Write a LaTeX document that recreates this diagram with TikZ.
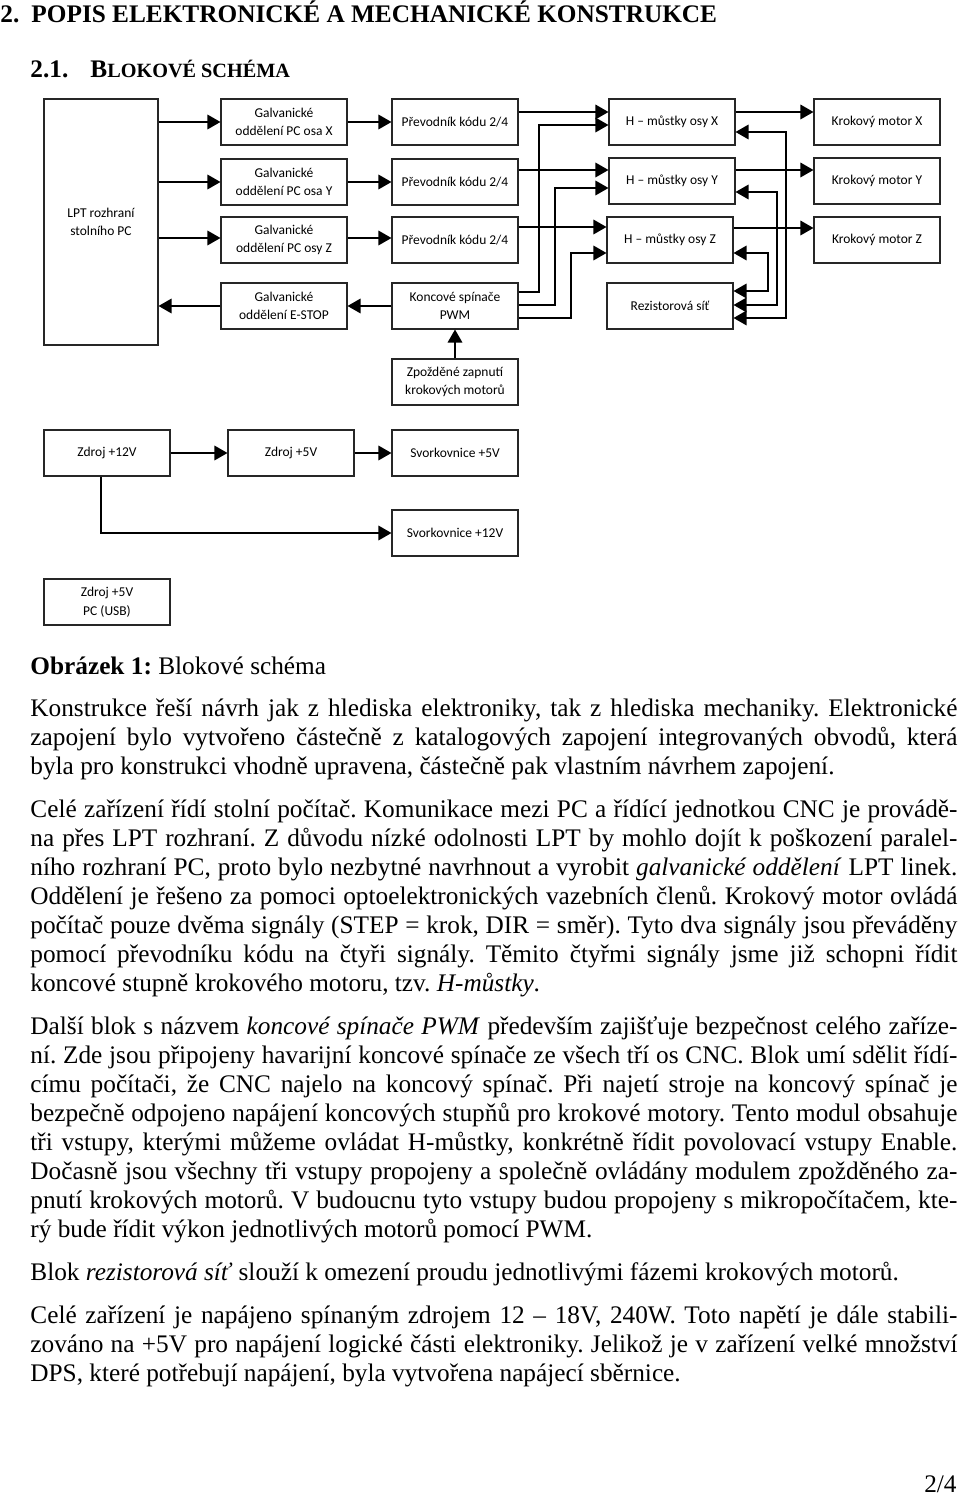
\documentclass[tikz,border=0pt]{standalone}
\usepackage{fontspec}
\setmainfont{Liberation Serif}
\newfontfamily\diagfont{Carlito}
\usepackage{tikz}
\usetikzlibrary{arrows}
\usepackage{xcolor}
\frenchspacing

\def\pxu{0.01668cm}
\newlength\sirka
\setlength\sirka{15.46cm}
\newcommand\radekj[1]{\makebox[\sirka][s]{#1}}

\tikzset{
  blok/.style={draw=black!85, line width=0.55pt, minimum width=126*\pxu, minimum height=46*\pxu,
    inner sep=1pt, align=center, font=\diagfont\fontsize{6.4}{8.8}\selectfont},
  sip/.style={-triangle 60, line width=0.65pt},
  sip2/.style={triangle 60-triangle 60, line width=0.65pt},
  radek/.style={anchor=base west, inner sep=0pt, font=\fontsize{12}{14}\selectfont}
}

\begin{document}
\begin{tikzpicture}[x=\pxu, y=\pxu]
      % Page (y counts downwards as negative numbers)
      \useasboundingbox (0,0) rectangle (960,-1495);
      \fill[white] (0,0) rectangle (960,-1495);

      % Headings
      \node[radek, font=\bfseries\fontsize{12}{14}\selectfont] (h1num) at (0,-23) {2.};
      \node[radek, font=\bfseries\fontsize{12}{14}\selectfont] (h1) at (31,-23) {POPIS ELEKTRONICKÉ A MECHANICKÉ KONSTRUKCE};
      \node[radek, font=\bfseries\fontsize{12}{14}\selectfont] (h2num) at (30,-78) {2.1.};
      \node[radek, font=\bfseries\fontsize{12}{14}\selectfont] (h2) at (90,-78)
        {B{\fontsize{9.6}{12}\selectfont LOKOVÉ SCHÉMA}};

      % Blocks
      \node[blok, minimum width=114*\pxu, minimum height=246*\pxu] (lpt) at (101,-222) {LPT rozhraní\\stolního PC};
      \node[blok] (galX) at (284,-122) {Galvanické\\oddělení PC osa X};
      \node[blok] (galY) at (284,-182) {Galvanické\\oddělení PC osa Y};
      \node[blok] (galZ) at (284,-240) {Galvanické\\oddělení PC osy Z};
      \node[blok] (galE) at (284,-306) {Galvanické\\oddělení E-STOP};
      \node[blok] (prevX) at (455,-122) {Převodník kódu 2/4};
      \node[blok] (prevY) at (455,-182) {Převodník kódu 2/4};
      \node[blok] (prevZ) at (455,-240) {Převodník kódu 2/4};
      \node[blok] (konc) at (455,-306) {Koncové spínače\\PWM};
      \node[blok] (hX) at (672,-122) {H – můstky osy X};
      \node[blok] (hY) at (672,-181) {H – můstky osy Y};
      \node[blok] (hZ) at (670,-240) {H – můstky osy Z};
      \node[blok] (rez) at (670,-306) {Rezistorová síť};
      \node[blok] (motX) at (877,-122) {Krokový motor X};
      \node[blok] (motY) at (877,-181) {Krokový motor Y};
      \node[blok] (motZ) at (877,-240) {Krokový motor Z};
      \node[blok] (zpoz) at (455,-382) {Zpožděné zapnutí\\krokových motorů};
      \node[blok] (z12) at (107,-453) {Zdroj +12V};
      \node[blok] (z5) at (291,-453) {Zdroj +5V};
      \node[blok] (sv5) at (455,-453) {Svorkovnice +5V};
      \node[blok] (sv12) at (455,-533) {Svorkovnice +12V};
      \node[blok] (zusb) at (107,-602) {Zdroj +5V\\PC (USB)};

      % Signal path
      \draw[sip] (lpt.east |- galX) -- (galX);
      \draw[sip] (lpt.east |- galY) -- (galY);
      \draw[sip] (lpt.east |- 0,-238) -- (galZ.west |- 0,-238);
      \draw[sip] (galE) -- (galE.west -| lpt.east);
      \draw[sip] (galX) -- (prevX);
      \draw[sip] (galY) -- (prevY);
      \draw[sip] (galZ.east |- 0,-238) -- (prevZ.west |- 0,-238);
      \draw[sip] (konc) -- (galE);
      \draw[sip] (prevX.east |- 0,-112) -- (hX.west |- 0,-112);
      \draw[sip] (prevY.east |- 0,-170) -- (hY.west |- 0,-170);
      \draw[sip] (prevZ.east |- 0,-227) -- (hZ.west |- 0,-227);
      \draw[sip] (konc.east |- 0,-292) -| (539,-125) -- (hX.west |- 0,-125);
      \draw[sip] (konc.east |- 0,-305) -| (555,-188) -- (hY.west |- 0,-188);
      \draw[sip] (konc.east |- 0,-318) -| (571,-253) -- (hZ.west |- 0,-253);
      \draw[sip] (hX.east |- 0,-112) -- (motX.west |- 0,-112);
      \draw[sip] (hY.east |- 0,-170) -- (motY.west |- 0,-170);
      \draw[sip] (hZ.east |- 0,-228) -- (motZ.west |- 0,-228);
      \draw[sip2] (hX.east |- 0,-132) -| (786,-318) -- (rez.east |- 0,-318);
      \draw[sip2] (hY.east |- 0,-192) -| (777,-305) -- (rez.east |- 0,-305);
      \draw[sip2] (hZ.east |- 0,-253) -| (768,-291) -- (rez.east |- 0,-291);
      \draw[sip] (zpoz) -- (konc);

      % Power
      \draw[sip] (z12) -- (z5);
      \draw[sip] (z5) -- (sv5);
      \draw[sip] (z12.south -| 101,0) |- (sv12);

      % Caption
      \node[radek] (cap) at (30,-674) {\textbf{Obrázek 1:} Blokové schéma};

      % Text
      \node[radek] (p1a) at (30,-716) {\radekj{Konstrukce řeší návrh jak z hlediska elektroniky, tak z hlediska mechaniky. Elektronické}};
      \node[radek] (p1b) at (30,-745) {\radekj{zapojení bylo vytvořeno částečně z katalogových zapojení integrovaných obvodů, která}};
      \node[radek] (p1c) at (30,-774) {byla pro konstrukci vhodně upravena, částečně pak vlastním návrhem zapojení.};

      \node[radek] (p2a) at (30,-817) {\radekj{Celé zařízení řídí stolní počítač. Komunikace mezi PC a řídící jednotkou CNC je provádě-}};
      \node[radek] (p2b) at (30,-846) {\radekj{na přes LPT rozhraní. Z důvodu nízké odolnosti LPT by mohlo dojít k poškození paralel-}};
      \node[radek] (p2c) at (30,-875) {\radekj{ního rozhraní PC, proto bylo nezbytné navrhnout a vyrobit \emph{galvanické oddělení} LPT linek.}};
      \node[radek] (p2d) at (30,-904) {\radekj{Oddělení je řešeno za pomoci optoelektronických vazebních členů. Krokový motor ovládá}};
      \node[radek] (p2e) at (30,-933) {\radekj{počítač pouze dvěma signály (STEP = krok, DIR = směr). Tyto dva signály jsou převáděny}};
      \node[radek] (p2f) at (30,-962) {\radekj{pomocí převodníku kódu na čtyři signály. Těmito čtyřmi signály jsme již schopni řídit}};
      \node[radek] (p2g) at (30,-991) {koncové stupně krokového motoru, tzv. \emph{H-můstky}.};

      \node[radek] (p3a) at (30,-1034) {\radekj{Další blok s názvem \emph{koncové spínače PWM} především zajišťuje bezpečnost celého zaříze-}};
      \node[radek] (p3b) at (30,-1063) {\radekj{ní. Zde jsou připojeny havarijní koncové spínače ze všech tří os CNC. Blok umí sdělit řídí-}};
      \node[radek] (p3c) at (30,-1092) {\radekj{címu počítači, že CNC najelo na koncový spínač. Při najetí stroje na koncový spínač je}};
      \node[radek] (p3d) at (30,-1121) {\radekj{bezpečně odpojeno napájení koncových stupňů pro krokové motory. Tento modul obsahuje}};
      \node[radek] (p3e) at (30,-1150) {\radekj{tři vstupy, kterými můžeme ovládat H-můstky, konkrétně řídit povolovací vstupy Enable.}};
      \node[radek] (p3f) at (30,-1179) {\radekj{Dočasně jsou všechny tři vstupy propojeny a společně ovládány modulem zpožděného za-}};
      \node[radek] (p3g) at (30,-1208) {\radekj{pnutí krokových motorů. V budoucnu tyto vstupy budou propojeny s mikropočítačem, kte-}};
      \node[radek] (p3h) at (30,-1237) {rý bude řídit výkon jednotlivých motorů pomocí PWM.};

      \node[radek] (p4a) at (30,-1280) {Blok \emph{rezistorová síť} slouží k omezení proudu jednotlivými fázemi krokových motorů.};

      \node[radek] (p5a) at (30,-1323) {\radekj{Celé zařízení je napájeno spínaným zdrojem 12 – 18V, 240W. Toto napětí je dále stabili-}};
      \node[radek] (p5b) at (30,-1352) {\radekj{zováno na +5V pro napájení logické části elektroniky. Jelikož je v zařízení velké množství}};
      \node[radek] (p5c) at (30,-1381) {DPS, které potřebují napájení, byla vytvořena napájecí sběrnice.};

      % Page number
      \node[anchor=base east, inner sep=0pt, font=\fontsize{12}{14}\selectfont] (strana) at (957,-1492) {2/4};
    \end{tikzpicture}
\end{document}
